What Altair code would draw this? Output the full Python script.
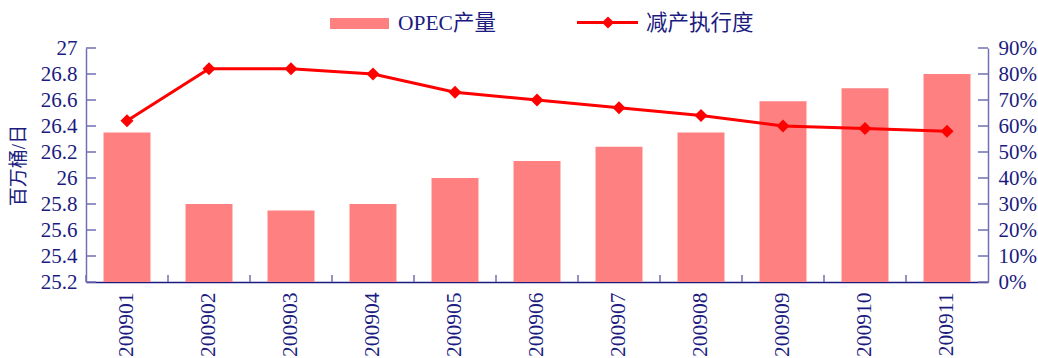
import altair as alt
import pandas as pd

months = ["200901", "200902", "200903", "200904", "200905", "200906",
          "200907", "200908", "200909", "200910", "200911"]
opec_output = [26.35, 25.80, 25.75, 25.80, 26.00, 26.13, 26.24, 26.35, 26.59, 26.69, 26.80]
compliance = [0.62, 0.82, 0.82, 0.80, 0.73, 0.70, 0.67, 0.64, 0.60, 0.59, 0.58]
left_ticks = [25.2, 25.4, 25.6, 25.8, 26.0, 26.2, 26.4, 26.6, 26.8, 27.0]
right_ticks = [0.0, 0.1, 0.2, 0.3, 0.4, 0.5, 0.6, 0.7, 0.8, 0.9]
series_names = ["OPEC产量", "减产执行度"]
y_title = "百万桶/日"

W, H = 902, 234
FONT = "Liberation Serif, Noto Sans CJK SC"
NAVY = "#1b1b80"
AXIS_C = "#7070b0"
BAR_C = "#FF8080"
LINE_C = "#FF0000"

df = pd.DataFrame({"month": months, "output": opec_output, "rate": compliance})
lt = pd.DataFrame({"output": left_ticks})
rt = pd.DataFrame({"rate": right_ticks})
one = pd.DataFrame({"a": [0]})

xscale = alt.Scale(domain=months, paddingInner=0, paddingOuter=0)
xaxis = alt.Axis(title=None, labelAngle=270, labelAlign="right",
                 labelBaseline="middle", labelPadding=10, tickSize=0,
                 domainColor=NAVY, domainWidth=1.5, labelColor=NAVY,
                 labelFont=FONT, labelFontSize=21.5)

lscale = alt.Scale(domain=[25.2, 27.0], zero=False, nice=False)
rscale = alt.Scale(domain=[0.0, 0.9], zero=False, nice=False)

laxis = alt.Axis(values=left_ticks, format="~g", tickSize=0, labelPadding=9,
                 domainColor=AXIS_C, domainWidth=1.5, labelColor=NAVY,
                 labelFont=FONT, labelFontSize=21, grid=False,
                 title=y_title, titleColor=NAVY, titleFont=FONT,
                 titleFontSize=19, titleFontWeight="normal", titlePadding=12)
raxis = alt.Axis(orient="right", values=right_ticks, format=".0%", tickSize=0,
                 labelPadding=10, domainColor=AXIS_C, domainWidth=1.5,
                 labelColor=NAVY, labelFont=FONT, labelFontSize=21,
                 grid=False, title=None)

bars = alt.Chart(df).mark_bar(color=BAR_C, width=alt.RelativeBandSize(0.573)).encode(
    x=alt.X("month:N", sort=months, scale=xscale, axis=xaxis),
    y=alt.Y("output:Q", scale=lscale, axis=laxis),
    y2=alt.datum(25.2),
)

lticks = alt.Chart(lt).mark_rule(color=AXIS_C, strokeWidth=1.5).encode(
    y=alt.Y("output:Q", scale=lscale, axis=laxis),
    x=alt.value(0), x2=alt.value(10),
)

xticks = alt.Chart(df).mark_rule(color=AXIS_C, strokeWidth=1.5).encode(
    x=alt.X("month:N", sort=months, scale=xscale, axis=xaxis, bandPosition=0),
    y=alt.value(H), y2=alt.value(H - 7),
)

left = alt.layer(bars, lticks, xticks)

line = alt.Chart(df).mark_line(color=LINE_C, strokeWidth=3).encode(
    x=alt.X("month:N", sort=months, scale=xscale, axis=xaxis),
    y=alt.Y("rate:Q", scale=rscale, axis=raxis),
)
pts = alt.Chart(df).mark_point(shape="diamond", filled=True, color=LINE_C, size=170,
                               opacity=1).encode(
    x=alt.X("month:N", sort=months, scale=xscale, axis=xaxis),
    y=alt.Y("rate:Q", scale=rscale, axis=raxis),
)
rticks = alt.Chart(rt).mark_rule(color=AXIS_C, strokeWidth=1.5).encode(
    y=alt.Y("rate:Q", scale=rscale, axis=raxis),
    x=alt.value(W - 10), x2=alt.value(W),
)
right = alt.layer(line, pts, rticks)

# legend (drawn above the plot area)
leg_swatch = alt.Chart(one).mark_rect(color=BAR_C).encode(
    x=alt.value(244), x2=alt.value(303), y=alt.value(-30), y2=alt.value(-19))
leg_t1 = alt.Chart(one).mark_text(align="left", baseline="middle", font=FONT,
                                  fontSize=21.5, color=NAVY).encode(
    x=alt.value(312), y=alt.value(-24), text=alt.value(series_names[0]))
leg_line = alt.Chart(one).mark_rule(color=LINE_C, strokeWidth=3).encode(
    x=alt.value(491), x2=alt.value(552), y=alt.value(-25.5))
leg_pt = alt.Chart(one).mark_point(shape="diamond", filled=True, color=LINE_C,
                                   size=150, opacity=1).encode(
    x=alt.value(522), y=alt.value(-25.5))
leg_t2 = alt.Chart(one).mark_text(align="left", baseline="middle", font=FONT,
                                  fontSize=21.5, color=NAVY).encode(
    x=alt.value(560), y=alt.value(-24), text=alt.value(series_names[1]))
legend = alt.layer(leg_swatch, leg_t1, leg_line, leg_pt, leg_t2)

chart = alt.layer(left, right, legend).resolve_scale(y="independent").properties(
    width=W, height=H,
    autosize=alt.AutoSizeParams(type="none"),
    padding={"left": 86, "top": 48, "right": 50, "bottom": 76},
    background="white",
).configure_view(stroke=None)

chart.save("out.html", embed_options={"renderer": "svg", "actions": False})
